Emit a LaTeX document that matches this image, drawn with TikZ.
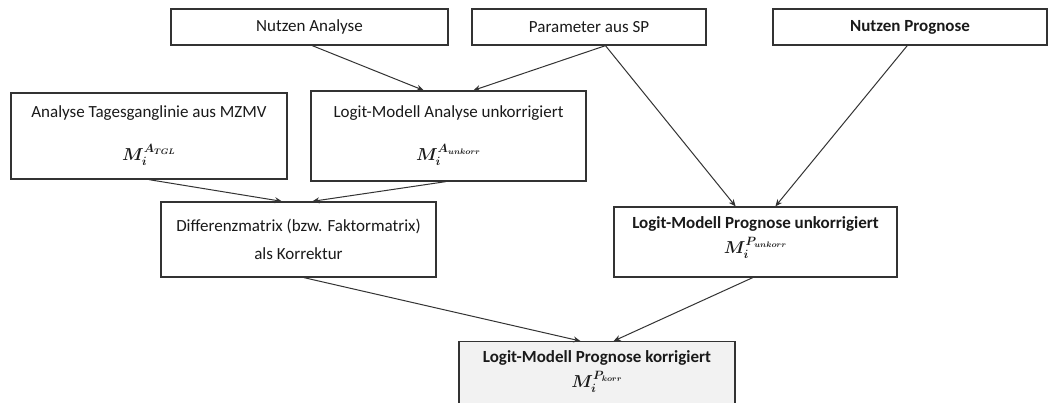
\documentclass[tikz,border=0pt]{standalone}
\usepackage{amsmath,bm}
\usepackage{fontspec}
\setmainfont{Carlito}
\usetikzlibrary{arrows.meta,calc}
\definecolor{linec}{HTML}{333333}
\definecolor{txtc}{HTML}{1A1A1A}
\definecolor{fillk}{HTML}{F2F2F2}
\newcommand{\mymat}[2]{{\boldmath$M_i^{#1_{#2}}$}}
\begin{document}
\begin{tikzpicture}[x=1pt,y=-1pt,
  box/.style={draw=linec,line width=1.3pt,fill=white,text=txtc,align=center,inner sep=0pt,
     font=\fontsize{17}{20}\selectfont},
  conn/.style={draw=linec,line width=1pt,-{Stealth[length=7pt,width=6pt]}}]
\clip (0,0) rectangle (1049,403);
\fill[white] (0,0) rectangle (1049,403);
% top row
\node[box,minimum width=277pt,minimum height=36pt] (na) at (309.5,27) {Nutzen Analyse};
\node[box,minimum width=234pt,minimum height=36pt] (ps) at (589,27) {Parameter aus SP};
\node[box,minimum width=274pt,minimum height=36pt] (np) at (910,27) {\bfseries Nutzen Prognose};
% second row
\node[box,minimum width=276pt,minimum height=86pt] (tgl) at (149,136)
  {Analyse Tagesganglinie aus MZMV\\[23pt] \mymat{A}{TGL}};
\node[box,minimum width=275pt,minimum height=90pt] (la) at (448.5,136)
  {Logit-Modell Analyse unkorrigiert\\[23pt] \mymat{A}{unkorr}};
% third row
\node[box,minimum width=275pt,minimum height=75pt] (dm) at (298.5,239.5)
  {Differenzmatrix (bzw. Faktormatrix)\\[8pt] als Korrektur};
% third row right
\node[box,minimum width=283pt,minimum height=70pt] (pu) at (755.5,242) {};
\node[text=txtc,align=center,font=\fontsize{17}{20}\selectfont,anchor=north] (put) at (755.5,213)
  {\bfseries Logit-Modell Prognose unkorrigiert\\[5pt] \mymat{P}{unkorr}};
% bottom
\node[box,fill=fillk,minimum width=276pt,minimum height=90pt,anchor=north] (pk) at (597,341) {};
\node[text=txtc,align=center,font=\fontsize{17}{20}\selectfont,anchor=north] (pkt) at (597,347)
  {\bfseries Logit-Modell Prognose korrigiert\\[5pt] \mymat{P}{korr}};
% connectors
\draw[conn] ($(na.south west)!0.51!(na.south east)$) -- ($(la.north west)!0.41!(la.north east)$);
\draw[conn] ($(ps.south west)!0.57!(ps.south east)$) -- ($(la.north west)!0.59!(la.north east)$);
\draw[conn] ($(ps.south west)!0.57!(ps.south east)$) -- ($(pu.north west)!0.43!(pu.north east)$);
\draw[conn] ($(np.south west)!0.49!(np.south east)$) -- ($(pu.north west)!0.57!(pu.north east)$);
\draw[conn] ($(tgl.south west)!0.5!(tgl.south east)$) -- ($(dm.north west)!0.44!(dm.north east)$);
\draw[conn] ($(la.south west)!0.49!(la.south east)$) -- ($(dm.north west)!0.55!(dm.north east)$);
\draw[conn] ($(dm.south west)!0.52!(dm.south east)$) -- ($(pk.north west)!0.44!(pk.north east)$);
\draw[conn] ($(pu.south west)!0.49!(pu.south east)$) -- ($(pk.north west)!0.56!(pk.north east)$);
\end{tikzpicture}
\end{document}
